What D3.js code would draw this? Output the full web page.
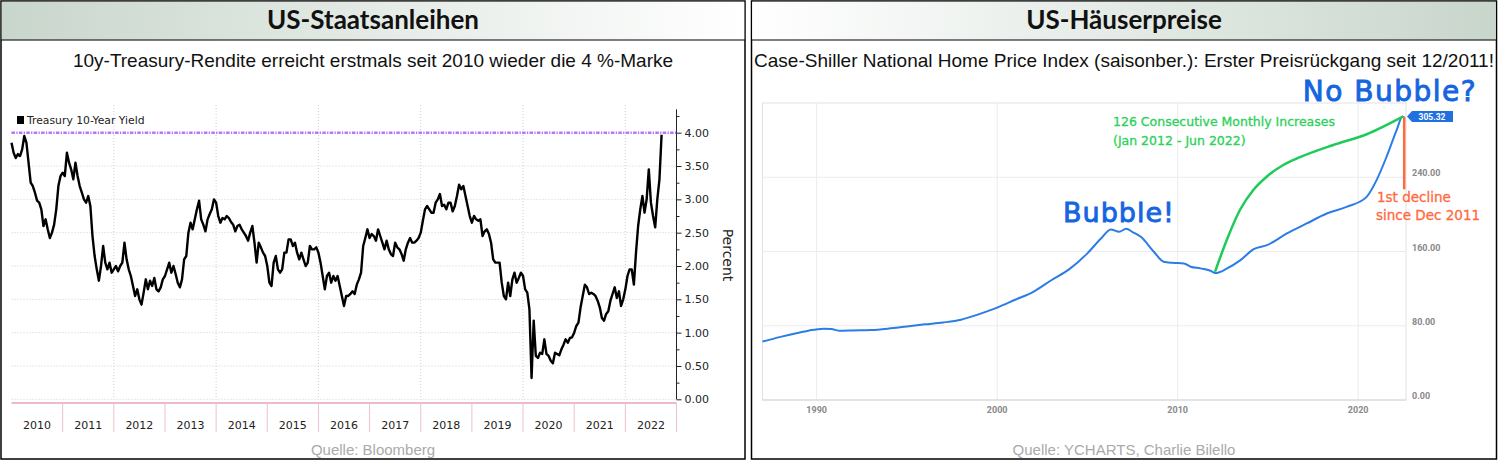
<!DOCTYPE html>
<meta charset="UTF-8">
<style>
body { margin: 0; background: #fff; }
svg { display: block; }
.title { font: bold 26px Lato, sans-serif; fill: #111; }
.sub { font: 19px "Liberation Sans", Arial, sans-serif; fill: #111; }
.src { font: 15px "Liberation Sans", Arial, sans-serif; fill: #aaa; }
.bb text { font: 11px "DejaVu Sans", sans-serif; fill: #222; }
.yc text { font: bold 9px Roboto, sans-serif; fill: #888; }
.hand { font-family: "DejaVu Sans", sans-serif; }
</style>
<body>
<script src="https://cdn.jsdelivr.net/npm/d3@7"></script>
<script>

// ---- 10y Treasury yield, two readings per month (1st half, 2nd half) ----
var y2010 = [3.85,3.70,3.62,3.68,3.65,3.75,3.95,3.85,3.55,3.25,3.20,3.10,2.98,2.95,2.85,2.60,2.70,2.55,2.42,2.50,2.62,2.85,3.20,3.35];
var y2011 = [3.40,3.35,3.70,3.55,3.45,3.30,3.55,3.35,3.20,3.10,3.00,2.95,3.05,2.90,2.45,2.15,1.95,1.78,2.00,2.30,2.05,1.95,2.05,1.90];
var y2012 = [1.95,2.00,1.92,2.00,2.05,2.35,2.10,1.95,1.85,1.70,1.55,1.65,1.50,1.42,1.60,1.80,1.65,1.78,1.70,1.82,1.65,1.62,1.68,1.80];
var y2013 = [1.85,1.95,2.05,1.90,2.00,1.88,1.75,1.68,1.80,2.10,2.15,2.50,2.65,2.55,2.70,2.85,2.98,2.70,2.62,2.52,2.70,2.78,2.85,3.00];
var y2014 = [2.95,2.75,2.65,2.72,2.70,2.75,2.72,2.66,2.62,2.52,2.60,2.62,2.55,2.50,2.45,2.38,2.50,2.60,2.35,2.05,2.35,2.28,2.20,2.15];
var y2015 = [2.00,1.75,1.70,2.05,2.15,1.95,1.90,1.95,2.20,2.20,2.40,2.40,2.30,2.35,2.20,2.10,2.20,2.10,2.00,2.05,2.30,2.25,2.25,2.28];
var y2016 = [2.20,2.05,1.85,1.65,1.85,1.90,1.75,1.85,1.78,1.85,1.70,1.55,1.40,1.55,1.55,1.58,1.62,1.58,1.72,1.80,1.90,2.30,2.42,2.55];
var y2017 = [2.42,2.48,2.45,2.38,2.55,2.45,2.35,2.25,2.38,2.25,2.18,2.15,2.35,2.28,2.25,2.18,2.08,2.25,2.35,2.42,2.35,2.35,2.38,2.42];
var y2018 = [2.50,2.68,2.85,2.90,2.85,2.80,2.80,2.95,3.00,3.08,2.90,2.92,2.85,2.95,2.95,2.82,2.90,3.05,3.22,3.15,3.20,3.05,2.90,2.75];
var y2019 = [2.65,2.75,2.70,2.68,2.70,2.45,2.52,2.55,2.48,2.35,2.10,2.05,2.05,2.05,1.75,1.55,1.50,1.75,1.55,1.80,1.90,1.75,1.82,1.90];
var y2020 = [1.85,1.65,1.60,1.35,0.32,1.18,0.65,0.62,0.70,0.68,0.90,0.68,0.65,0.58,0.54,0.70,0.68,0.66,0.75,0.82,0.90,0.85,0.92,0.93];
var y2021 = [1.00,1.10,1.15,1.38,1.55,1.72,1.68,1.58,1.60,1.58,1.55,1.48,1.38,1.22,1.18,1.28,1.32,1.48,1.58,1.68,1.52,1.62,1.40,1.50];
var y2022 = [1.65,1.85,1.95,1.95,1.72,2.20,2.60,2.85,3.05,2.80,3.00,3.45,2.95,2.75,2.58,3.00,3.30,3.97];
var yieldYears = [2010,2011,2012,2013,2014,2015,2016,2017,2018,2019,2020,2021,2022];
var yieldRows = [y2010,y2011,y2012,y2013,y2014,y2015,y2016,y2017,y2018,y2019,y2020,y2021,y2022];
var yieldMark = 4.0;
var leftYTicks = [0,0.5,1,1.5,2,2.5,3,3.5,4];
var leftMinorTicks = [0.25,0.75,1.25,1.75,2.25,2.75,3.25,3.75,4.25];
var leftGridYears = [2012,2014,2016,2018,2020,2022];
var leftYearLabels = [2010,2011,2012,2013,2014,2015,2016,2017,2018,2019,2020,2021,2022];

// ---- Case-Shiller National Home Price Index (SA) ----
var csYears = [1987.0,1988.0,1989.0,1989.6,1990.4,1990.8,1991.3,1992.0,1993.0,1994.0,1995.0,1996.0,1997.0,1998.0,1999.0,2000.0,2001.0,2002.0,2003.0,2004.0,2005.0,2005.75,2006.3,2006.76,2007.15,2007.5,2007.96,2008.68,2009.23,2009.7,2010.35,2010.72,2011.27,2011.82,2012.1,2012.74,2013.48,2014.21,2014.95,2016.05,2017.15,2018.26,2019.36,2020.47,2021.02,2021.57,2022.13,2022.45,2022.55];
var csValues = [63.0,68.0,72.5,75.0,76.8,76.5,74.6,75.0,75.4,77.0,79.3,81.5,83.5,86.5,92.5,99.5,108.0,116.5,129.0,141.0,158.0,174.0,183.8,181.3,184.5,181.0,175.8,159.7,148.9,147.8,147.2,143.6,141.8,139.2,136.8,141.8,150.7,162.6,166.9,179.4,190.2,200.9,208.1,218.9,236.9,261.9,290.7,305.32,304.6];
var csLast = 305.32;
// green annotation: the 126-month run of increases
var runYears = [2012.07,2012.72,2013.45,2014.19,2014.93,2015.85,2016.78,2018.62,2020.47,2022.5];
var runValues = [138.2,172.4,204.7,226.3,240.6,253.2,261.6,274.7,286.3,305.5];
// orange annotation: first decline
var declineYear = 2022.55;
var declineValues = [305, 227];
var rightYTicks = [0,80,160,240];
var rightXTicks = [1990,2000,2010,2020];

var svg = d3.select("body").append("svg").attr("width", 1498).attr("height", 461);

var defs = svg.append("defs");
function grad(id, c0, c1) {
  var g = defs.append("linearGradient").attr("id", id).attr("x1", "0").attr("x2", "1").attr("y1", "0").attr("y2", "0");
  g.append("stop").attr("offset", "0").attr("stop-color", c0);
  g.append("stop").attr("offset", "1").attr("stop-color", c1);
}
grad("gL", "#c9d6cc", "#ffffff");
grad("gR", "#ffffff", "#c9d6cc");

// panels
function panel(x, w, fill, title, sub, src) {
  svg.append("rect").attr("x", x).attr("y", 1).attr("width", w).attr("height", 458)
    .attr("fill", "#fff").attr("stroke", "#000").attr("stroke-width", 1.5);
  svg.append("rect").attr("x", x + 0.75).attr("y", 1.75).attr("width", w - 1.5).attr("height", 38.5).attr("fill", fill);
  svg.append("line").attr("x1", x).attr("x2", x + w).attr("y1", 40).attr("y2", 40).attr("stroke", "#000").attr("stroke-width", 1.2);
  svg.append("text").attr("class", "title").attr("x", x + w / 2).attr("y", 29).attr("text-anchor", "middle").text(title);
  svg.append("text").attr("class", "sub").attr("x", x + w / 2).attr("y", 67).attr("text-anchor", "middle").text(sub);
  svg.append("text").attr("class", "src").attr("x", x + w / 2).attr("y", 455).attr("text-anchor", "middle").text(src);
}
panel(1, 744, "url(#gL)", "US-Staatsanleihen", "10y-Treasury-Rendite erreicht erstmals seit 2010 wieder die 4 %-Marke", "Quelle: Bloomberg");
panel(751.5, 745, "url(#gR)", "US-Häuserpreise", "Case-Shiller National Home Price Index (saisonber.): Erster Preisrückgang seit 12/2011!", "Quelle: YCHARTS, Charlie Bilello");

// ================= left: Bloomberg chart =================
var xL = d3.scaleLinear().domain([2010, 2023]).range([11.5, 676.5]);
var yL = d3.scaleLinear().domain([0, 4]).range([399.3, 132.7]);
var gL = svg.append("g").attr("class", "bb");

gL.selectAll("line.hg").data(leftYTicks.slice(0, 8)).enter().append("line")
  .attr("x1", xL(2010)).attr("x2", xL(2023)).attr("y1", d => yL(d)).attr("y2", d => yL(d))
  .attr("stroke", "#cfcfcf").attr("stroke-dasharray", "1,2");
gL.selectAll("line.vg").data(leftGridYears).enter().append("line")
  .attr("x1", d => xL(d)).attr("x2", d => xL(d)).attr("y1", 105).attr("y2", yL(0))
  .attr("stroke", "#cfcfcf").attr("stroke-dasharray", "1,2");

// x axis band (pink)
gL.append("line").attr("x1", xL(2010)).attr("x2", xL(2023)).attr("y1", 403).attr("y2", 403)
  .attr("stroke", "#e6a3b6").attr("stroke-width", 1.5);
gL.selectAll("line.sep").data(leftYearLabels.map(d => d + 1)).enter().append("line")
  .attr("x1", d => xL(d)).attr("x2", d => xL(d)).attr("y1", 403).attr("y2", 432)
  .attr("stroke", "#ecc0cc").attr("stroke-width", 1);
gL.selectAll("text.yr").data(leftYearLabels).enter().append("text")
  .attr("x", d => xL(d + 0.5)).attr("y", 429).attr("text-anchor", "middle").text(d => d);

// right axis
var axR = gL.append("g").attr("transform", "translate(" + xL(2023) + ",0)")
  .call(d3.axisRight(yL).tickValues(leftYTicks).tickFormat(d3.format(".2f")).tickSize(5).tickPadding(3));
axR.select(".domain").remove();
axR.selectAll("line").attr("stroke", "#222");
gL.append("g").attr("transform", "translate(" + xL(2023) + ",0)")
  .call(d3.axisRight(yL).tickValues(leftMinorTicks).tickFormat("").tickSize(3))
  .call(g => g.select(".domain").remove())
  .selectAll("line").attr("stroke", "#222");
gL.append("line").attr("x1", xL(2023)).attr("x2", xL(2023)).attr("y1", yL(4.35)).attr("y2", yL(0))
  .attr("stroke", "#222").attr("stroke-width", 1);
gL.append("text").attr("transform", "translate(723,255) rotate(90)").attr("text-anchor", "middle")
  .style("font-size", "14px").text("Percent");

// 4 % mark
gL.append("line").attr("x1", xL(2010)).attr("x2", xL(2023)).attr("y1", yL(yieldMark)).attr("y2", yL(yieldMark))
  .attr("stroke", "#b577f5").attr("stroke-width", 2.6).attr("stroke-dasharray", "3.5,1.3,1.3,1.3");

// yield line
var yields = [];
yieldRows.forEach(function(row, k) {
  row.forEach(function(v, i) { yields.push({t: yieldYears[k] + i / 24, v: v}); });
});
gL.append("path").datum(yields)
  .attr("d", d3.line().x(d => xL(d.t)).y(d => yL(d.v)))
  .attr("fill", "none").attr("stroke", "#000").attr("stroke-width", 2.4).attr("stroke-linejoin", "round");

// legend
gL.append("rect").attr("x", 17).attr("y", 116).attr("width", 7).attr("height", 8).attr("fill", "#000");
gL.append("text").attr("x", 27).attr("y", 124).style("font-size", "10.8px").text("Treasury 10-Year Yield");

// ================= right: YCharts chart =================
var xR = d3.scaleLinear().domain([1987.0, 2022.65]).range([762.5, 1406]);
var yR = d3.scaleLinear().domain([0, 320]).range([400, 103]);
var gR = svg.append("g").attr("class", "yc");

gR.append("rect").attr("x", xR(1987)).attr("y", yR(320)).attr("width", xR(2022.65) - xR(1987)).attr("height", yR(0) - yR(320))
  .attr("fill", "none").attr("stroke", "#e2e2e2");
gR.selectAll("line.hg").data(rightYTicks.slice(1)).enter().append("line")
  .attr("x1", xR(1987)).attr("x2", xR(2022.65)).attr("y1", d => yR(d)).attr("y2", d => yR(d))
  .attr("stroke", "#ececec");
gR.selectAll("line.vg").data(rightXTicks).enter().append("line")
  .attr("x1", d => xR(d)).attr("x2", d => xR(d)).attr("y1", yR(320)).attr("y2", yR(0))
  .attr("stroke", "#ececec");
gR.append("line").attr("x1", xR(1987)).attr("x2", xR(2022.65)).attr("y1", yR(0)).attr("y2", yR(0))
  .attr("stroke", "#d6d6d6").attr("stroke-width", 1.2);

gR.selectAll("text.xl").data(rightXTicks).enter().append("text")
  .attr("x", d => xR(d)).attr("y", 413).attr("text-anchor", "middle").text(d => d);
gR.selectAll("text.yl").data(rightYTicks).enter().append("text")
  .attr("x", 1412).attr("y", d => yR(d) - 1).text(d => d3.format(".2f")(d));

// index line
var cs = csYears.map((t, i) => ({t: t, v: csValues[i]}));
gR.append("path").datum(cs)
  .attr("d", d3.line().x(d => xR(d.t)).y(d => yR(d.v)).curve(d3.curveMonotoneX))
  .attr("fill", "none").attr("stroke", "#2b7de6").attr("stroke-width", 2);

// last value badge
var by = yR(csLast);
gR.append("path").attr("d", "M" + (xR(2022.65) + 1) + "," + by + "L1412," + (by - 5.5) + "H1453V" + (by + 5.5) + "H1412Z")
  .attr("fill", "#2070e0");
gR.append("text").attr("x", 1432).attr("y", by + 3).attr("text-anchor", "middle")
  .style("fill", "#fff").style("font-size", "8.5px").text(d3.format(".2f")(csLast));

// annotations
var run = runYears.map((t, i) => ({t: t, v: runValues[i]}));
gR.append("path").datum(run)
  .attr("d", d3.line().x(d => xR(d.t)).y(d => yR(d.v)).curve(d3.curveMonotoneX))
  .attr("fill", "none").attr("stroke", "#1ecb5a").attr("stroke-width", 2.5);
gR.append("line").attr("x1", xR(declineYear)).attr("x2", xR(declineYear))
  .attr("y1", yR(declineValues[0])).attr("y2", yR(declineValues[1]))
  .attr("stroke", "#ff6a3d").attr("stroke-width", 2.5);

var hand = svg.append("g").attr("class", "hand");
function note(x, y, size, color, txt, ls, sw, anchor) {
  hand.append("text").attr("x", x).attr("y", y).attr("text-anchor", anchor || "start")
    .style("font-size", size + "px").style("fill", color).style("letter-spacing", ls + "px")
    .style("stroke", color).style("stroke-width", sw).text(txt);
}
note(1390, 101, 28, "#1565e0", "No Bubble?", 1.5, 0.9, "middle");
note(1119, 222, 27, "#1565e0", "Bubble!", 1, 0.9, "middle");
note(1113, 126, 12.5, "#2bd15a", "126 Consecutive Monthly Increases", 0, 0.3);
note(1113, 145, 12.5, "#2bd15a", "(Jan 2012 - Jun 2022)", 0, 0.3);
note(1377, 202, 13.5, "#ff6a3d", "1st decline", 0, 0.3);
note(1376, 220, 13.5, "#ff6a3d", "since Dec 2011", 0, 0.3);

</script>
</body>
